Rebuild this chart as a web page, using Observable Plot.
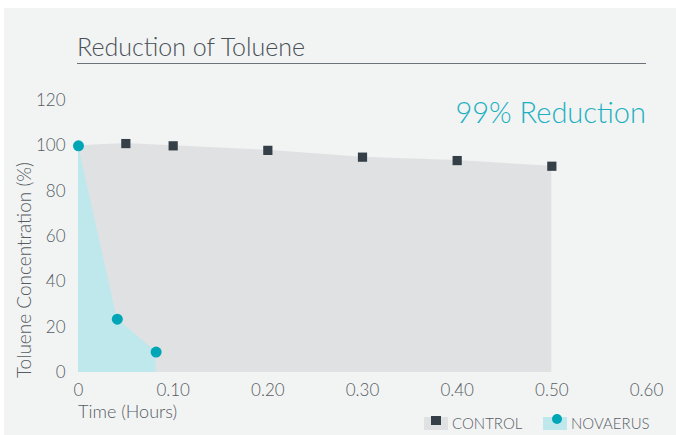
<!DOCTYPE html>
<html>
<head>
<meta charset="utf-8">
<script src="https://cdn.jsdelivr.net/npm/d3@7"></script>
<script src="https://cdn.jsdelivr.net/npm/@observablehq/plot@0.6"></script>
<style>
  html, body { margin: 0; padding: 0; background: #ffffff; }
  body { width: 676px; height: 435px; position: relative; overflow: hidden; font-family: Lato, "Open Sans", sans-serif; font-weight: 300; }
  #panel { position: absolute; left: 4px; top: 8px; width: 672px; height: 427px; background: #f2f4f4; }
  .t { position: absolute; white-space: nowrap; line-height: 1; }
  #title { left: 77px; top: 33.5px; font-size: 25px; color: #4a5056; }
  #rule { position: absolute; left: 77px; top: 63px; width: 569px; height: 0; border-top: 1.5px solid #6b7279; }
  #reduction { right: 30px; top: 96.8px; font-size: 29px; color: #1cb0c0; }
  #ylabel { left: 23px; top: 270px; font-size: 19px; color: #565c62; transform: translate(-50%, -50%) rotate(-90deg); }
  #xlabel { left: 78px; top: 402px; font-size: 18px; color: #565c62; }
  #chart { position: absolute; left: 4px; top: 88px; }
  .sw { position: absolute; }
  .leg { font-size: 15px; color: #5a6066; top: 415.7px; }
</style>
</head>
<body>
<div id="panel"></div>
<div class="t" id="title">Reduction of Toluene</div>
<div id="rule"></div>
<div class="t" id="reduction">99% Reduction</div>
<div class="t" id="ylabel">Toluene Concentration (%)</div>
<div id="chart"></div>
<div class="t" id="xlabel">Time (Hours)</div>
<div class="sw" style="left:424px;top:417px;width:24px;height:13px;background:#e0e1e3"></div>
<div class="sw" style="left:431px;top:416px;width:10px;height:9px;background:#353f48"></div>
<div class="t leg" style="left:452px">CONTROL</div>
<div class="sw" style="left:543px;top:417px;width:24px;height:13px;background:#bfe8ec"></div>
<div class="sw" style="left:552px;top:414px;width:10px;height:10px;border-radius:50%;background:#00a6b6"></div>
<div class="t leg" style="left:571px">NOVAERUS</div>
<script>
// Data
const controlTime = [0, 0.05, 0.1, 0.2, 0.3, 0.4, 0.5];
const controlValue = [100, 101, 100, 98, 95, 93.5, 91];
const novaerusTime = [0, 0.041, 0.082];
const novaerusValue = [100, 23.5, 9];
const xTicks = [0, 0.1, 0.2, 0.3, 0.4, 0.5, 0.6];
const xTickLabels = ["0", "0.10", "0.20", "0.30", "0.40", "0.50", "0.60"];
const yTicks = [0, 20, 40, 60, 80, 100, 120];

const control = controlTime.map((t, i) => ({t, v: controlValue[i]}));
const novaerus = novaerusTime.map((t, i) => ({t, v: novaerusValue[i]}));

const chart = Plot.plot({
  width: 672,
  height: 317,
  marginLeft: 74,
  marginRight: 30,
  marginTop: 12,
  marginBottom: 33,
  style: {background: "transparent", fontFamily: "Lato, 'Open Sans', sans-serif", fontWeight: 300, fontSize: "17px", color: "#565c62"},
  x: {domain: [0, 0.6], ticks: xTicks, tickFormat: d => xTickLabels[xTicks.indexOf(d)], tickSize: 0, tickPadding: 11, label: null},
  y: {domain: [0, 120], ticks: yTicks, tickSize: 0, tickPadding: 13, label: null},
  marks: [
    Plot.areaY(control, {x: "t", y: "v", fill: "#e0e1e3"}),
    Plot.areaY(novaerus, {x: "t", y: "v", fill: "#bfe8ec"}),
    Plot.dot(control.filter(d => d.t > 0), {x: "t", y: "v", symbol: "square", r: 5.2, fill: "#353f48"}),
    Plot.dot(novaerus, {x: "t", y: "v", r: 5.5, fill: "#00a6b6"})
  ]
});
document.getElementById("chart").appendChild(chart);
</script>
</body>
</html>
